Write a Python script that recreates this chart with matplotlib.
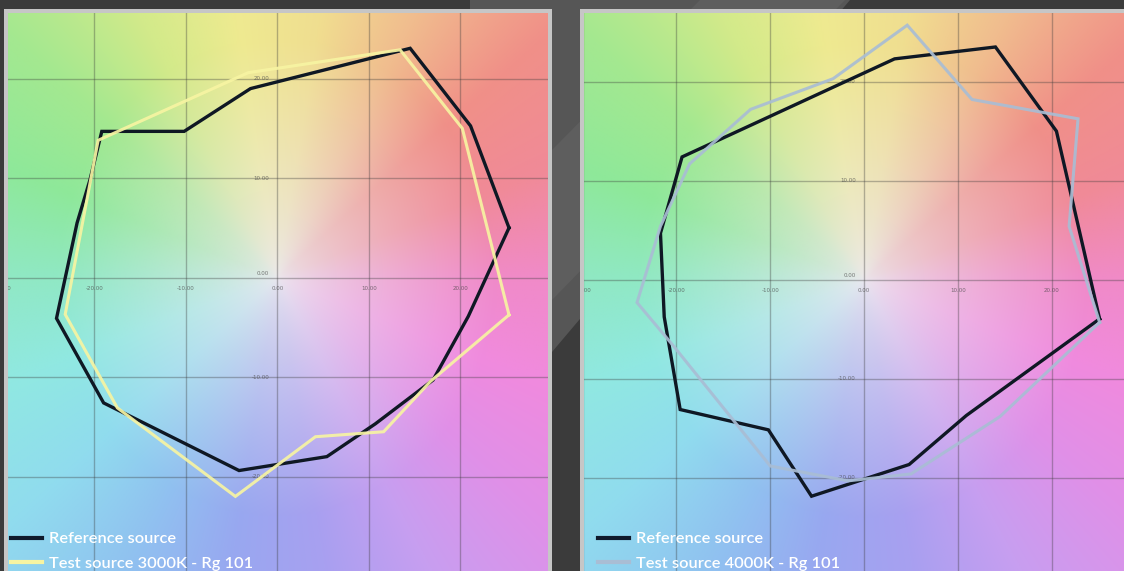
import numpy as np
import matplotlib
matplotlib.use('Agg')
from matplotlib import pyplot as plt
from matplotlib.patches import Rectangle, Polygon
from matplotlib.lines import Line2D

# Colour vector graphics (a', b' style coordinates)
ref3000_x = [25.3, 21.1, 14.5, -2.95, -10.2, -19.2, -20.5, -21.9, -24.15, -19.0, -4.2, 5.4, 10.7, 17.0, 20.85]
ref3000_y = [5.0, 15.25, 23.05, 19.0, 14.7, 14.7, 9.8, 5.5, -4.1, -12.6, -19.4, -18.0, -14.7, -10.3, -3.9]
test3000_x = [25.3, 20.2, 13.4, -3.2, -19.6, -23.2, -17.5, -4.6, 4.15, 11.6, 16.7]
test3000_y = [-3.75, 15.0, 22.9, 20.6, 13.8, -3.7, -13.1, -22.0, -16.0, -15.5, -10.45]

ref4000_x = [25.1, 20.5, 14.0, 3.25, -19.4, -21.7, -21.3, -19.6, -10.2, -5.6, 4.8, 10.9]
ref4000_y = [-3.95, 15.0, 23.5, 22.3, 12.4, 4.7, -3.75, -13.1, -15.15, -21.85, -18.65, -13.7]
test4000_x = [25.1, 21.85, 22.8, 11.5, 4.6, -3.3, -12.1, -18.6, -21.7, -24.2, -20.3, -10.0, -1.7, 5.0, 14.5]
test4000_y = [-4.3, 5.4, 16.25, 18.2, 25.7, 20.3, 17.2, 11.7, 5.4, -2.3, -6.7, -18.8, -20.3, -19.6, -13.8]

grid_vals = [-30, -20, -10, 0, 10, 20, 30]
tick_labels = ['-30.00', '-20.00', '-10.00', '0.00', '10.00', '20.00', '30.00']
label_ref = 'Reference source'
label_3000 = 'Test source 3000K - Rg 101'
label_4000 = 'Test source 4000K - Rg 101'

# background hue wheel (decoration)
hue_deg = [0, 20, 40, 60, 80, 100, 120, 140, 160, 180, 200, 220, 240, 260, 280, 300, 320, 340, 360]
hue_cols = ['#f08ac8', '#f08a98', '#f09088', '#f0bc8e', '#f0de90', '#eeea90', '#d2ea8a', '#a4e890',
            '#8ee89a', '#90e8c4', '#90e8e2', '#90dcee', '#90c2f0', '#98a8f0', '#a8a0f0', '#c89ef0',
            '#e090e8', '#f08ade', '#f08ac8']

W, H = 1124, 571
fig = plt.figure(figsize=(W / 100, H / 100), dpi=100)
fig.patch.set_facecolor('#3b3b3b')

def fxy(x, y):
	return (x / W, 1 - y / H)

# diagonal light band behind the panels
fig.patches.append(Polygon([fxy(470, 0), fxy(850, 0), fxy(552, 352), fxy(470, 352)],
	closed=True, transform=fig.transFigure, facecolor='#565656', edgecolor='none', zorder=-3))
fig.patches.append(Polygon([fxy(700, 0), fxy(845, 0), fxy(552, 300), fxy(552, 150)],
	closed=True, transform=fig.transFigure, facecolor='#5e5e5e', edgecolor='none', zorder=-3))
# panel frames
fig.patches.append(Rectangle(fxy(4, 571), 547.7 / W, 1 - 9.3 / H, transform=fig.transFigure,
	facecolor='#c6c6c6', edgecolor='none', zorder=-2))
fig.patches.append(Rectangle(fxy(580, 571), 560 / W, 1 - 9.3 / H, transform=fig.transFigure,
	facecolor='#c6c6c6', edgecolor='none', zorder=-2))

rgb = np.array([matplotlib.colors.to_rgb(c) for c in hue_cols])
centre = np.array(matplotlib.colors.to_rgb('#ebe8ee'))

def background(ax, xlim, ylim):
	xs = np.linspace(xlim[0], xlim[1], 300)
	ys = np.linspace(ylim[0], ylim[1], 300)
	X, Y = np.meshgrid(xs, ys)
	th = np.degrees(np.arctan2(Y, X)) % 360
	r = np.hypot(X, Y)
	w = np.clip(r / 24.0, 0, 1) ** 0.7
	img = np.zeros(X.shape + (3,))
	for k in range(3):
		ch = np.interp(th, hue_deg, rgb[:, k])
		img[..., k] = ch * w + centre[k] * (1 - w)
	ax.imshow(img, extent=(xlim[0], xlim[1], ylim[0], ylim[1]), origin='lower',
		aspect='auto', interpolation='bilinear', zorder=0)

def panel(rect, xlim, ylim, rx, ry, tx, ty, tcolor, tlabel, leg_x):
	ax = fig.add_axes(rect)
	background(ax, xlim, ylim)
	for v in grid_vals:
		ax.axvline(v, color='#3a3a3a', alpha=0.35, lw=1.0, zorder=1)
		ax.axhline(v, color='#3a3a3a', alpha=0.35, lw=1.0, zorder=1)
	for v, s in zip(grid_vals, tick_labels):
		# edge labels only show as clipped fragments, as in the source
		if xlim[0] - 1 < v < xlim[1]:
			ax.text(v, -1.1, s, fontsize=4, color='#444444', alpha=0.7, ha='center', va='center',
				clip_on=True, zorder=2)
		if v != 0 and abs(v) < 30:
			ax.text(-0.9, v, s, fontsize=4, color='#444444', alpha=0.7, ha='right', va='center', zorder=2)
	ax.text(-0.9, 0.4, '0.00', fontsize=4, color='#444444', alpha=0.7, ha='right', va='center', zorder=2)
	ax.plot(rx + [rx[0]], ry + [ry[0]], color='#0f1824', lw=2.4, solid_joinstyle='miter', zorder=3)
	ax.plot(tx + [tx[0]], ty + [ty[0]], color=tcolor, lw=2.2, alpha=0.92, solid_joinstyle='miter', zorder=4)
	ax.set_xlim(xlim)
	ax.set_ylim(ylim)
	ax.axis('off')
	handles = [Line2D([], [], color='#0f1a2c', lw=3), Line2D([], [], color=tcolor, lw=3)]
	ax.legend(handles, [label_ref, tlabel], loc='upper left', bbox_to_anchor=fxy(leg_x, 532),
		bbox_transform=fig.transFigure, frameon=False, borderpad=0, borderaxespad=0,
		handlelength=1.9, handletextpad=0.4, labelspacing=0.6,
		prop={'family': 'Lato', 'size': 11.8, 'weight': 'semibold'}, labelcolor='white')
	return ax

panel([8 / W, 0, 539.7 / W, 1 - 13.3 / H], (-29.45, 29.53), (-29.5, 26.57),
	ref3000_x, ref3000_y, test3000_x, test3000_y, '#f7f4a2', label_3000, 11)
panel([584 / W, 0, 540 / W, 1 - 13.3 / H], (-29.85, 27.7), (-29.4, 26.9),
	ref4000_x, ref4000_y, test4000_x, test4000_y, '#a9bdd4', label_4000, 598)

fig.savefig('out.png', dpi=100, facecolor=fig.get_facecolor())
